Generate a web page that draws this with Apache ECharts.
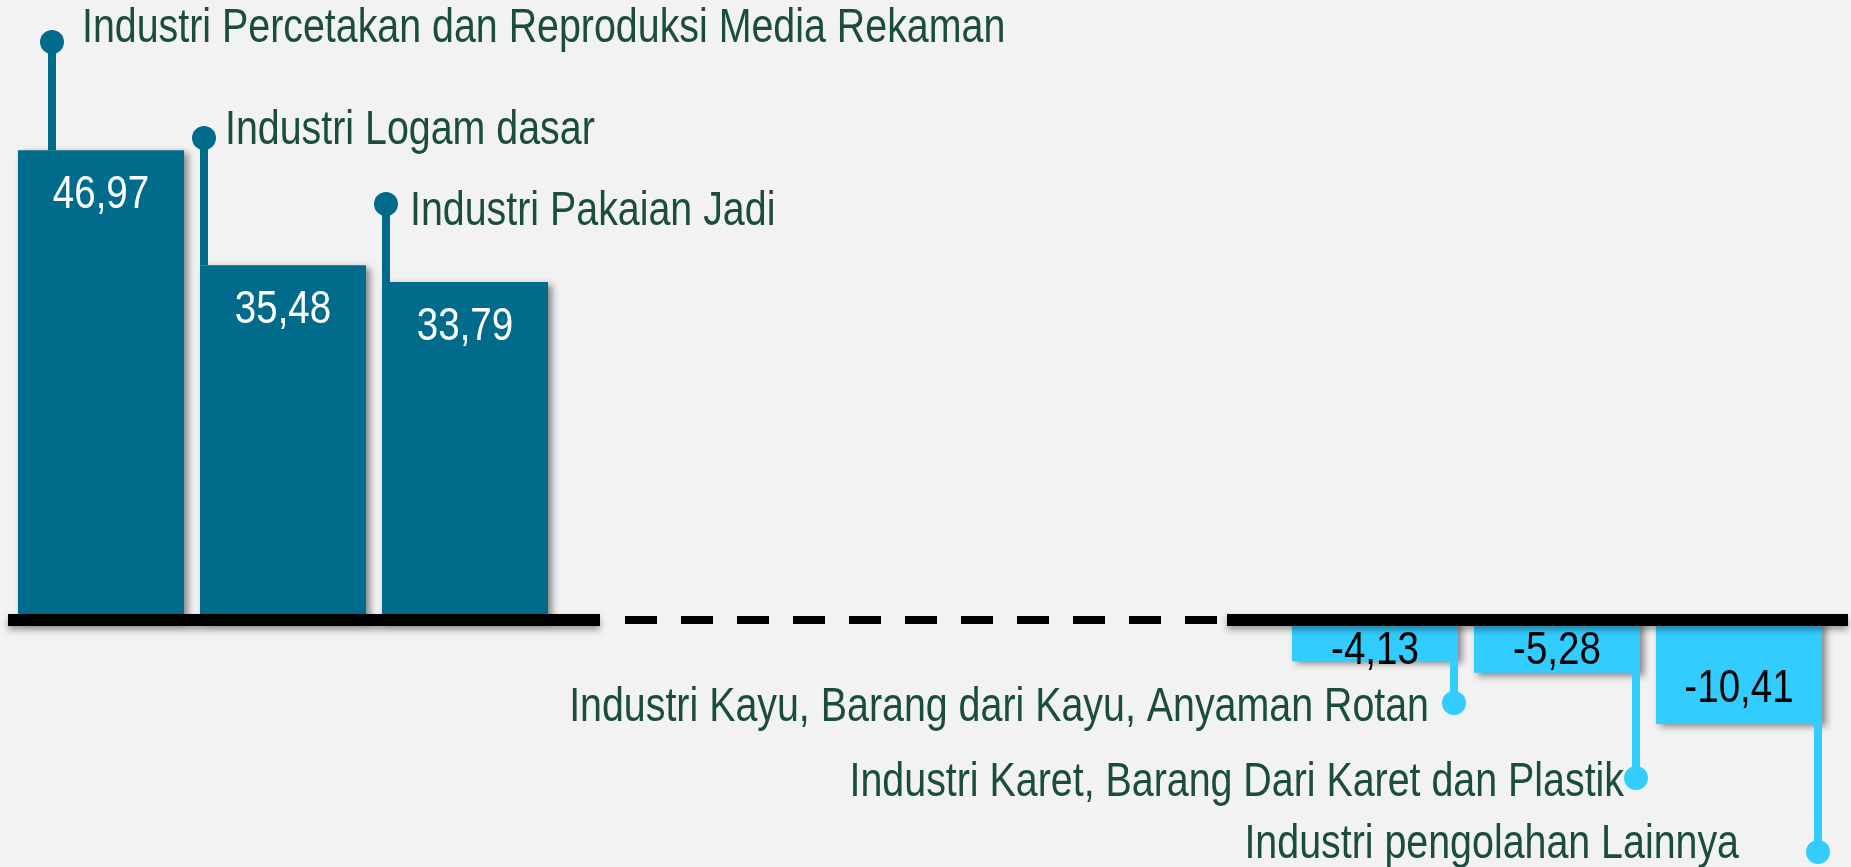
<!DOCTYPE html>
<html>
<head>
<meta charset="utf-8">
<title>Industri</title>
<script src="https://cdn.jsdelivr.net/npm/echarts@6/dist/echarts.min.js"></script>
<style>
  html, body { margin: 0; padding: 0; background: #f2f2f2; }
  #chart { width: 1851px; height: 867px; }
</style>
</head>
<body>
<div id="chart"></div>
<script>
// data
const categories = [
  'Industri Percetakan dan Reproduksi Media Rekaman',
  'Industri Logam dasar',
  'Industri Pakaian Jadi',
  '', '', '', '',
  'Industri Kayu, Barang dari Kayu, Anyaman Rotan',
  'Industri Karet, Barang Dari Karet dan Plastik',
  'Industri pengolahan Lainnya'
];
const values = [46.97, 35.48, 33.79, null, null, null, null, -4.13, -5.28, -10.41];
// where each leader line ends (dot), in value units
const leaderEnds = [57.8, 48.2, 41.6, null, null, null, null, -8.3, -15.8, -23.2];

// layout tweaks
const FONT = "'Liberation Sans', Arial, sans-serif";
const NARROW = 0.82; // Arial Narrow look from Arial metrics
const BAR_WIDTH = 166;
const DARK = '#006b8b';
const LIGHT = '#33ccff';
const TEXT = '#1a4c3f';
const TEXT_DROP = 5; // canvas 'middle' sits a bit above cap middle
const leaderInset = [34, 4, 4, 0, 0, 0, 0, 4, 4, 4];
const textGap = [30, 21, 24, 0, 0, 0, 0, 25, 12, 79];
const textShift = [-18, -12, 3, 0, 0, 0, 0, 0, 0, -12];
const valueShift = [0, 0, 0, 0, 0, 0, 0, 5, 0, 12];

const fmt = v => v.toFixed(2).replace('.', ',');

const barData = values.map(v => {
  if (v == null) return '-';
  return { value: v, itemStyle: { color: v >= 0 ? DARK : LIGHT } };
});

const calloutData = [];
values.forEach((v, i) => {
  if (v != null) calloutData.push([i, v, leaderEnds[i]]);
});

const chart = echarts.init(document.getElementById('chart'));
chart.setOption({
  backgroundColor: '#f2f2f2',
  animation: false,
  grid: { left: 10, width: 1820, top: 20, height: 800 },
  xAxis: {
    type: 'category',
    data: categories,
    show: false
  },
  yAxis: {
    type: 'value',
    min: -20,
    max: 60,
    show: false
  },
  series: [
    {
      type: 'bar',
      data: barData,
      barWidth: BAR_WIDTH,
      z: 2,
      itemStyle: {
        shadowBlur: 7,
        shadowColor: 'rgba(0,0,0,0.45)',
        shadowOffsetX: 4,
        shadowOffsetY: 3
      }
    },
    {
      // zero line: solid, dashed through the gap, solid again
      type: 'custom',
      data: [[0, 0]],
      z: 5,
      silent: true,
      clip: false,
      renderItem(params, api) {
        const band = api.size([1, 0])[0];
        const zeroY = api.coord([0, 0])[1];
        const left = k => api.coord([k, 0])[0] - band / 2;
        const x0 = left(0) - 2;
        const x1 = left(3) + 44;
        const x2 = left(3) + 69;
        const x3 = left(7) - 67;
        const x4 = left(7) - 57;
        const x5 = left(9) + band + 18;
        const solidStyle = {
          fill: '#000',
          shadowBlur: 6,
          shadowColor: 'rgba(0,0,0,0.35)',
          shadowOffsetY: 4
        };
        return {
          type: 'group',
          children: [
            { type: 'rect', shape: { x: x0, y: zeroY - 6, width: x1 - x0, height: 12 }, style: solidStyle },
            {
              type: 'line',
              shape: { x1: x2, y1: zeroY, x2: x3, y2: zeroY },
              style: { stroke: '#000', lineWidth: 8, lineDash: [32, 24] }
            },
            { type: 'rect', shape: { x: x4, y: zeroY - 6, width: x5 - x4, height: 12 }, style: solidStyle }
          ]
        };
      }
    },
    {
      // value labels, leader lines with dots and category names
      type: 'custom',
      data: calloutData,
      z: 6,
      silent: true,
      clip: false,
      renderItem(params, api) {
        const i = api.value(0);
        const v = api.value(1);
        const end = api.value(2);
        const pos = v >= 0;
        const tip = api.coord([i, v]);
        const zero = api.coord([i, 0]);
        const dot = api.coord([i, end]);
        const half = BAR_WIDTH / 2;
        const x = pos ? tip[0] - half + leaderInset[i] : tip[0] + half - leaderInset[i];
        const color = pos ? DARK : LIGHT;
        const labelY = (pos ? tip[1] + 40 : (tip[1] + zero[1]) / 2 + valueShift[i]) + TEXT_DROP;
        return {
          type: 'group',
          children: [
            {
              type: 'line',
              shape: { x1: x, y1: tip[1], x2: x, y2: dot[1] },
              style: { stroke: color, lineWidth: 8 }
            },
            {
              type: 'circle',
              shape: { cx: x, cy: dot[1], r: 12 },
              style: { fill: color }
            },
            {
              type: 'text',
              x: pos ? x + textGap[i] : x - textGap[i],
              y: dot[1] + textShift[i] + TEXT_DROP,
              scaleX: NARROW,
              style: {
                text: categories[i],
                fill: TEXT,
                font: '48px ' + FONT,
                align: pos ? 'left' : 'right',
                verticalAlign: 'middle'
              }
            },
            {
              type: 'text',
              x: tip[0],
              y: labelY,
              scaleX: NARROW,
              style: {
                text: fmt(v),
                fill: pos ? '#ffffff' : '#000000',
                font: '47px ' + FONT,
                align: 'center',
                verticalAlign: 'middle'
              }
            }
          ]
        };
      }
    }
  ]
});
</script>
</body>
</html>
